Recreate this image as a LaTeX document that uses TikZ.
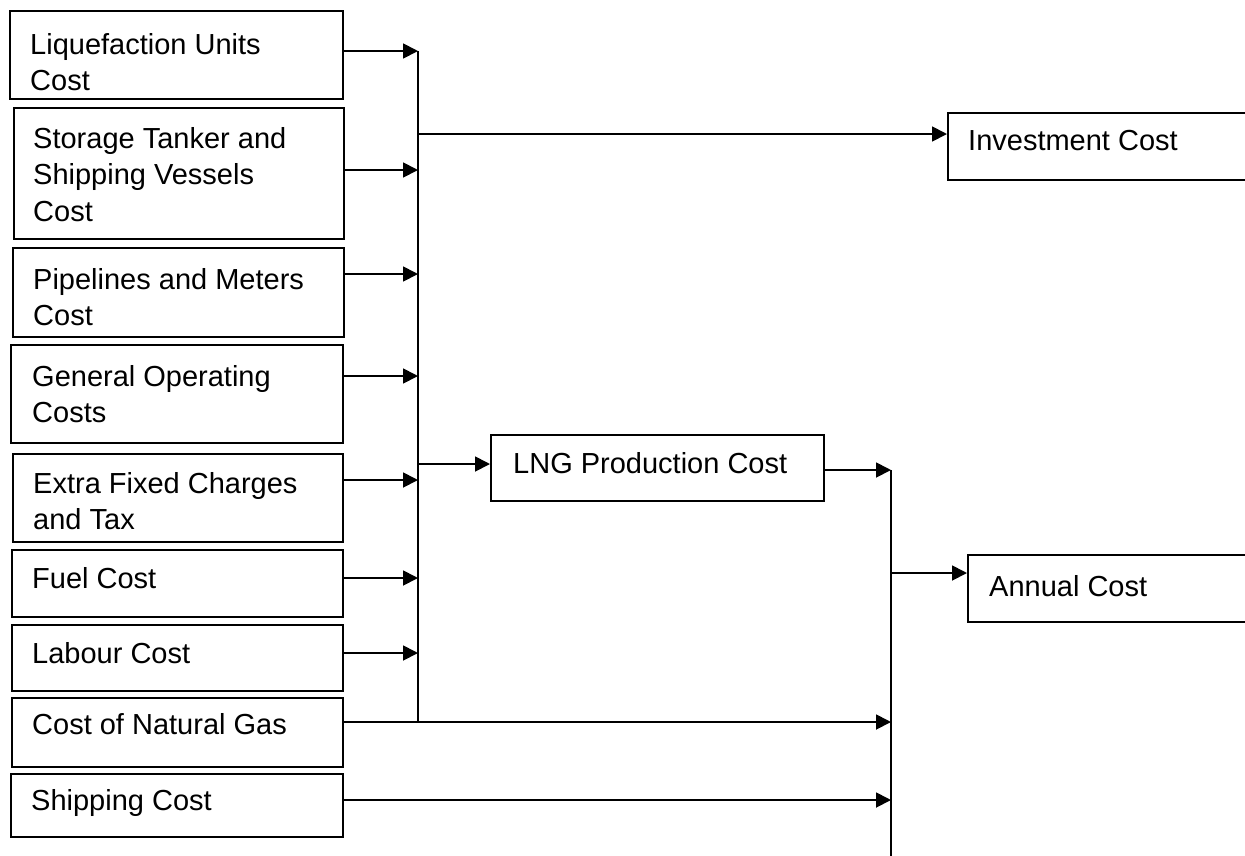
\documentclass[tikz,border=0pt]{standalone}
\usepackage{fontspec}
\setmainfont{Liberation Sans}
\usetikzlibrary{arrows.meta,calc}
\begin{document}
\begin{tikzpicture}[x=1pt,y=-1pt]
\tikzset{
  costbox/.style={draw, line width=2pt, inner sep=0pt, anchor=north west},
  costtext/.style={anchor=north west, inner sep=0pt, align=left, font=\fontsize{29pt}{36.5pt}\selectfont},
  link/.style={line width=1.8pt},
  arr/.style={link, -{Triangle[length=15pt,width=15pt]}}
}
\useasboundingbox (0,0) rectangle (1245,855);
\clip (0,0) rectangle (1245,855);

% boxes
\node[costbox, minimum width=333pt, minimum height=88pt] (b1) at (9,10) {};
\node[costbox, minimum width=330pt, minimum height=131pt] (b2) at (13,107) {};
\node[costbox, minimum width=331pt, minimum height=89pt] (b3) at (12,247) {};
\node[costbox, minimum width=332pt, minimum height=98pt] (b4) at (10,344) {};
\node[costbox, minimum width=330pt, minimum height=88pt] (b5) at (12,453) {};
\node[costbox, minimum width=331pt, minimum height=67pt] (b6) at (11,549) {};
\node[costbox, minimum width=331pt, minimum height=66pt] (b7) at (11,624) {};
\node[costbox, minimum width=331pt, minimum height=69pt] (b8) at (11,697) {};
\node[costbox, minimum width=332pt, minimum height=63pt] (b9) at (10,773) {};
\node[costbox, minimum width=333pt, minimum height=66pt] (lng) at (490,434) {};
\node[costbox, minimum width=320pt, minimum height=67pt] (inv) at (947,112) {};
\node[costbox, minimum width=300pt, minimum height=67pt] (ann) at (967,554) {};

% texts
\node[costtext] (t1) at (30,33) {Liquefaction Units\\Cost};
\node[costtext] (t2) at (33,127) {Storage Tanker and\\Shipping Vessels\\Cost};
\node[costtext] (t3) at (33,268) {Pipelines and Meters\\Cost};
\node[costtext] (t4) at (32,365) {General Operating\\Costs};
\node[costtext] (t5) at (33,472) {Extra Fixed Charges\\and Tax};
\node[costtext] (t6) at (32,567) {Fuel Cost};
\node[costtext] (t7) at (32,642) {Labour Cost};
\node[costtext] (t8) at (32,713) {Cost of Natural Gas};
\node[costtext] (t9) at (31,789) {Shipping Cost};
\node[costtext] (tl) at (513,452) {LNG Production Cost};
\node[costtext] (ti) at (968,130) {Investment Cost};
\node[costtext] (ta) at (989,575) {Annual Cost};

% bus coordinates
\coordinate (a1) at (418,51);
\coordinate (a2) at (418,170);
\coordinate (a3) at (418,274);
\coordinate (a4) at (418,376);
\coordinate (a5) at (418,480);
\coordinate (a6) at (418,578);
\coordinate (a7) at (418,653);
\coordinate (a8) at (418,722);
\coordinate (j1) at (418,134);
\coordinate (j2) at (418,464);
\coordinate (r1) at (891,470);
\coordinate (ra) at (891,573);
\coordinate (r8) at (891,722);
\coordinate (r9) at (891,800);
\coordinate (rend) at (891,860);

% connectors
\draw[arr] (b1.east |- a1) -- (a1);
\draw[arr] (b2.east |- a2) -- (a2);
\draw[arr] (b3.east |- a3) -- (a3);
\draw[arr] (b4.east |- a4) -- (a4);
\draw[arr] (b5.east |- a5) -- (a5);
\draw[arr] (b6.east |- a6) -- (a6);
\draw[arr] (b7.east |- a7) -- (a7);
\draw[link] (a1) -- (a8);
\draw[arr] (j1) -- (inv.west |- j1);
\draw[arr] (j2) -- (lng.west |- j2);
\draw[arr] (b8.east |- r8) -- (r8);
\draw[arr] (b9.east |- r9) -- (r9);
\draw[arr] (lng.east |- r1) -- (r1);
\draw[link] (r1) -- (rend);
\draw[arr] (ra) -- (ann.west |- ra);
\end{tikzpicture}
\end{document}
